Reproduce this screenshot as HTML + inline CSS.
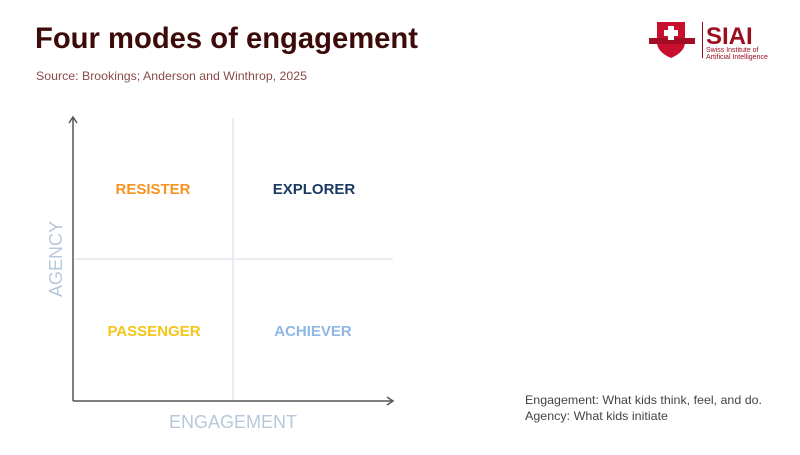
<!DOCTYPE html>
<html><head><meta charset="utf-8"><style>
body{margin:0;width:800px;height:450px;background:#fff;overflow:hidden;font-family:"Liberation Sans",sans-serif;}
</style></head><body>
<svg width="800" height="450" xmlns="http://www.w3.org/2000/svg">
<text x="35" y="48" font-size="30" font-weight="bold" fill="#3d0a0a" textLength="383" lengthAdjust="spacingAndGlyphs">Four modes of engagement</text>
<text x="36" y="80" font-size="12" fill="#8a4a4a" textLength="271" lengthAdjust="spacingAndGlyphs">Source: Brookings; Anderson and Winthrop, 2025</text>
<!-- logo -->
<path d="M657 22 h28 v20 q0 10 -14 16 q-14 -6 -14 -16z" fill="#c8102e"/>
<rect x="649" y="38" width="46" height="6" fill="#a00d24"/>
<rect x="668" y="26" width="6" height="14" fill="#fff"/><rect x="664" y="30" width="14" height="6" fill="#fff"/>
<rect x="702" y="22" width="1" height="36" fill="#a00d24"/>
<text x="706" y="44" font-size="24" font-weight="bold" fill="#9a0f20">SIAI</text>
<text x="706" y="52" font-size="7" fill="#9a0f20">Swiss Institute of</text>
<text x="706" y="59" font-size="7" fill="#9a0f20">Artificial Intelligence</text>
<!-- grid -->
<line x1="233" y1="118" x2="233" y2="400" stroke="#e3e8ee" stroke-width="1.5"/>
<line x1="75" y1="259" x2="393" y2="259" stroke="#e3e8ee" stroke-width="1.5"/>
<line x1="73" y1="118" x2="73" y2="401" stroke="#555" stroke-width="1.5"/>
<line x1="73" y1="401" x2="392" y2="401" stroke="#555" stroke-width="1.5"/>
<polyline points="69,123 73,117 77,123" fill="none" stroke="#555" stroke-width="1.5"/>
<polyline points="387,397 393,401 387,405" fill="none" stroke="#555" stroke-width="1.5"/>
<g font-size="15" font-weight="bold" text-anchor="middle">
<text x="153" y="194" fill="#f7931e">RESISTER</text>
<text x="314" y="194" fill="#1b3a63">EXPLORER</text>
<text x="154" y="336" fill="#f5c518">PASSENGER</text>
<text x="313" y="336" fill="#8fb8e6">ACHIEVER</text>
</g>
<text x="233" y="428" font-size="18" fill="#b8c8dc" text-anchor="middle">ENGAGEMENT</text>
<text transform="translate(62,259) rotate(-90)" font-size="18" fill="#b8c8dc" text-anchor="middle">AGENCY</text>
<text x="525" y="404" font-size="12" fill="#444" textLength="237" lengthAdjust="spacingAndGlyphs">Engagement: What kids think, feel, and do.</text>
<text x="525" y="420" font-size="12" fill="#444" textLength="143" lengthAdjust="spacingAndGlyphs">Agency: What kids initiate</text>
</svg>
</body></html>
